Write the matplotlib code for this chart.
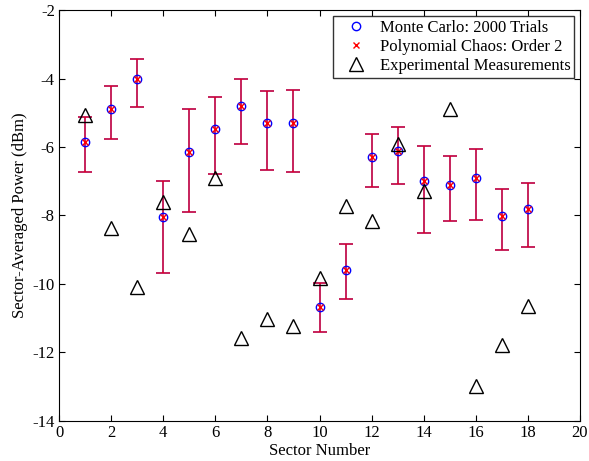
import matplotlib
matplotlib.use("Agg")
import matplotlib.pyplot as plt
import numpy as np

sectors = list(range(1, 19))
mc_mean = [-5.85, -4.89, -4.02, -8.05, -6.15, -5.47, -4.81, -5.31, -5.29,
           -10.66, -9.58, -6.28, -6.12, -6.99, -7.11, -6.91, -8.01, -7.81]
err_top = [-5.13, -4.21, -3.43, -6.98, -4.89, -4.54, -4.01, -4.36, -4.34,
           -9.96, -8.82, -5.63, -5.41, -5.96, -6.25, -6.05, -7.22, -7.04]
err_bot = [-6.73, -5.78, -4.82, -9.69, -7.90, -6.79, -5.90, -6.66, -6.72,
           -11.39, -10.45, -7.18, -7.07, -8.51, -8.17, -8.13, -9.02, -8.92]
pc_mean = mc_mean
experimental = [-5.07, -8.36, -10.10, -7.62, -8.55, -6.90, -11.59, -11.02, -11.22,
                -9.83, -7.71, -8.16, -5.92, -7.28, -4.89, -12.98, -11.79, -10.64]

plt.rcParams['font.family'] = ['Liberation Serif', 'DejaVu Serif']
plt.rcParams['axes.unicode_minus'] = False

fig = plt.figure(figsize=(5.89, 4.61), dpi=100)
ax = fig.add_axes([0.1002, 0.0868, 0.8845, 0.8915])

x = np.array(sectors)
m = np.array(mc_mean)
lo = m - np.array(err_bot)
hi = np.array(err_top) - m

ax.errorbar(x, m, yerr=[lo, hi], fmt='none', ecolor='blue', elinewidth=1.4,
            capsize=5, capthick=1.4, alpha=0.6, zorder=2)
ax.errorbar(x, m, yerr=[lo, hi], fmt='none', ecolor='red', elinewidth=1.2,
            capsize=5, capthick=1.2, alpha=0.75, zorder=3)

ax.plot(x, m, 'o', mfc='none', mec='blue', ms=6, mew=1.0, zorder=4,
        label='Monte Carlo: 2000 Trials')
ax.plot(x, pc_mean, 'x', color='red', ms=4, mew=1.0, zorder=5,
        label='Polynomial Chaos: Order 2')
ax.plot(x, experimental, '^', mfc='none', mec='black', ms=10, mew=1.0, zorder=6,
        label='Experimental Measurements')

ax.set_xlim(0, 20)
ax.set_ylim(-14, -2)
ax.set_xticks(range(0, 21, 2))
ax.set_yticks(range(-14, -1, 2))
ax.tick_params(direction='in', top=True, right=True, labelsize=12, length=4, pad=3)
ax.set_xlabel('Sector Number', fontsize=12, labelpad=1)
ax.set_ylabel('Sector-Averaged Power (dBm)', fontsize=12, labelpad=3)

leg = ax.legend(loc='upper right', fontsize=12, frameon=True, fancybox=False,
                edgecolor='black', borderaxespad=0.35, handletextpad=0.2,
                borderpad=0.22, labelspacing=0.2, handlelength=2.4)
leg.get_frame().set_linewidth(1.0)

fig.savefig('out.png', dpi=100)
